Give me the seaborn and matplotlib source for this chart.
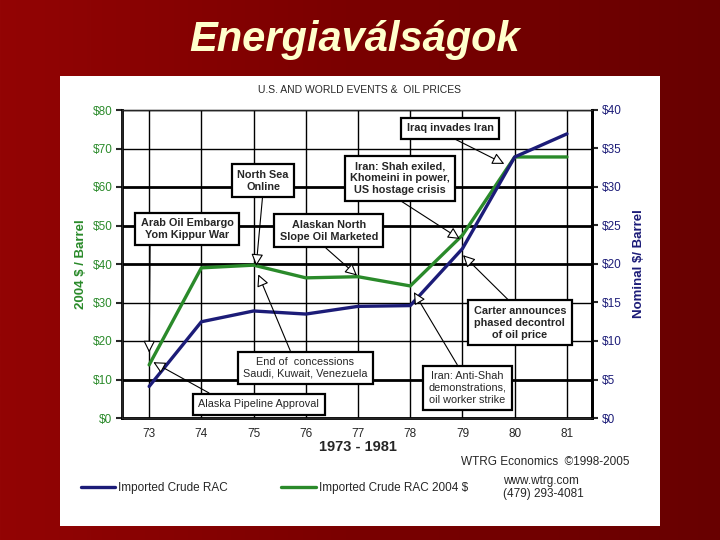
import numpy as np
import pandas as pd
import seaborn as sns
import matplotlib.pyplot as plt
from matplotlib.patches import Rectangle
from matplotlib.colors import LinearSegmentedColormap

# values
years = [73, 74, 75, 76, 77, 78, 79, 80, 81]
nominal = [4.1, 12.5, 13.9, 13.5, 14.5, 14.6, 22.0, 33.9, 36.9]
real_2004 = [13.8, 39.0, 39.7, 36.4, 36.7, 34.3, 47.5, 67.8, 67.8]

left_ticks = [0, 10, 20, 30, 40, 50, 60, 70, 80]
left_labels = ["$0", "$10", "$20", "$30", "$40", "$50", "$60", "$70", "$80"]
right_ticks = [0, 5, 10, 15, 20, 25, 30, 35, 40]
right_labels = ["$0", "$5", "$10", "$15", "$20", "$25", "$30", "$35", "$40"]

events = [
    "Arab Oil Embargo\nYom Kippur War",
    "North Sea\nOnline",
    "Iran: Shah exiled,\nKhomeini in power,\nUS hostage crisis",
    "Iraq invades Iran",
    "Alaskan North\nSlope Oil Marketed",
    "Carter announces\nphased decontrol\nof oil price",
    "End of  concessions\nSaudi, Kuwait, Venezuela",
    "Alaska Pipeline Approval",
    "Iran: Anti-Shah\ndemonstrations,\noil worker strike",
]
# layout of the callouts: box centre, arrow tip (left axis units), arrow start on box, weight
event_layout = [
    ((73.73, 49.1), (73.0, 17.0), (0.1, 0.0), "bold"),
    ((75.18, 61.6), (75.05, 39.5), (0.5, 0.0), "bold"),
    ((77.80, 62.3), (78.95, 46.5), (0.42, 0.0), "bold"),
    ((78.76, 75.3), (79.80, 66.0), (0.42, 0.0), "bold"),
    ((76.44, 48.6), (76.98, 37.0), (0.4, 0.0), "bold"),
    ((80.10, 24.7), (79.01, 42.3), (0.44, 1.0), "bold"),
    ((75.99, 13.0), (75.09, 37.3), (0.4, 1.0), "normal"),
    ((75.10, 3.6), (73.08, 14.5), (0.18, 1.0), "normal"),
    ((79.09, 7.8), (78.07, 32.7), (0.42, 1.0), "normal"),
]

green = "#2a8a2a"
navy = "#1c1c78"

df = pd.DataFrame({"year": years, "nominal": nominal, "real": real_2004})

sns.set_style("white")
plt.rcParams["font.family"] = ["Liberation Sans", "DejaVu Sans"]

fig = plt.figure(figsize=(7.2, 5.4), dpi=100)

# dark red slide background
bg = fig.add_axes([0, 0, 1, 1], zorder=-10)
cmap = LinearSegmentedColormap.from_list("slide", ["#930404", "#7a0000", "#680000"])
grad = np.linspace(0, 1, 256)[None, :]
bg.imshow(grad, cmap=cmap, aspect="auto", extent=[0, 1, 0, 1])
bg.axis("off")

fig.patches.append(Rectangle((60 / 720, 14 / 540), 600 / 720, 450 / 540,
                             transform=fig.transFigure, facecolor="white",
                             edgecolor="none", zorder=-5))

fig.text(0.493, 0.926, "Energiaválságok", color="#ffffcc", fontsize=30,
         fontweight="bold", fontstyle="italic", ha="center", va="center")

ax = fig.add_axes([122 / 720, 122 / 540, 470 / 720, 308 / 540])
sns.lineplot(data=df, x="year", y="real", ax=ax, color=green, lw=2.4,
             label="Imported Crude RAC 2004 $", legend=False)
ax.set_xlim(72.48, 81.48)
ax.set_ylim(0, 80)
ax.set_xticks(years)
ax.set_xticklabels([str(y) for y in years])
ax.set_yticks(left_ticks)
ax.set_yticklabels(left_labels, color=green)
ax.set_xlabel("")
ax.set_ylabel("2004 $ / Barrel", color=green, fontsize=9.5, fontweight="bold", labelpad=4)
ax.grid(True, color="black", lw=1)
for line, val in zip(ax.get_ygridlines(), left_ticks):
    line.set_linewidth(2 if val in (10, 40, 50, 60) else 1)
ax.tick_params(axis="both", length=4, width=1.5, labelsize=8.5, pad=3, direction="out")
for side in ["left", "bottom", "right"]:
    ax.spines[side].set_linewidth(2)
    ax.spines[side].set_color("black")
ax.spines["top"].set_linewidth(1)
ax.spines["top"].set_color("black")

ax2 = ax.twinx()
sns.lineplot(data=df, x="year", y="nominal", ax=ax2, color=navy, lw=2.4,
             label="Imported Crude RAC", legend=False)
ax2.set_ylim(0, 40)
ax2.set_yticks(right_ticks)
ax2.set_yticklabels(right_labels, color=navy)
ax2.set_ylabel("Nominal $/ Barrel", color=navy, fontsize=9.5, fontweight="bold", labelpad=8)
ax2.tick_params(axis="y", length=4, width=1.5, labelsize=8.5, pad=3, direction="out")
ax2.spines["right"].set_linewidth(2)
ax2.spines["right"].set_color("black")
ax2.grid(False)

for text, (box, tip, rel, weight) in zip(events, event_layout):
    ax2.annotate(text, xy=tip, xycoords=ax.transData, xytext=box, textcoords=ax.transData,
                 ha="center", va="center", fontsize=7.8, fontweight=weight,
                 linespacing=1.25, zorder=5,
                 bbox=dict(boxstyle="square,pad=0.5", fc="white", ec="black", lw=1.6),
                 arrowprops=dict(arrowstyle="-|>", fc="white", ec="black", lw=0.8,
                                 mutation_scale=18, relpos=rel, shrinkA=0, shrinkB=0))

fig.text(360 / 720, 1 - 90 / 540, "U.S. AND WORLD EVENTS &  OIL PRICES",
         fontsize=7.5, ha="center", va="center")
fig.text(358 / 720, 1 - 447 / 540, "1973 - 1981", fontsize=10.5, fontweight="bold",
         ha="center", va="center")
fig.text(545 / 720, 1 - 462 / 540, "WTRG Economics  \u00a91998-2005", fontsize=8.5,
         ha="center", va="center")
fig.text(503 / 720, 1 - 475 / 540, "www.wtrg.com\n(479) 293-4081", fontsize=8.5,
         ha="left", va="top", linespacing=1.15)

h1, l1 = ax2.get_legend_handles_labels()
h2, l2 = ax.get_legend_handles_labels()
fig.legend(h1 + h2, l1 + l2, ncol=2, loc="center left", frameon=False,
           bbox_to_anchor=(70 / 720, 1 - 488 / 540), fontsize=8.5,
           handlelength=2.9, handletextpad=0.3, columnspacing=4.5)

fig.savefig("out.png", dpi=100)
